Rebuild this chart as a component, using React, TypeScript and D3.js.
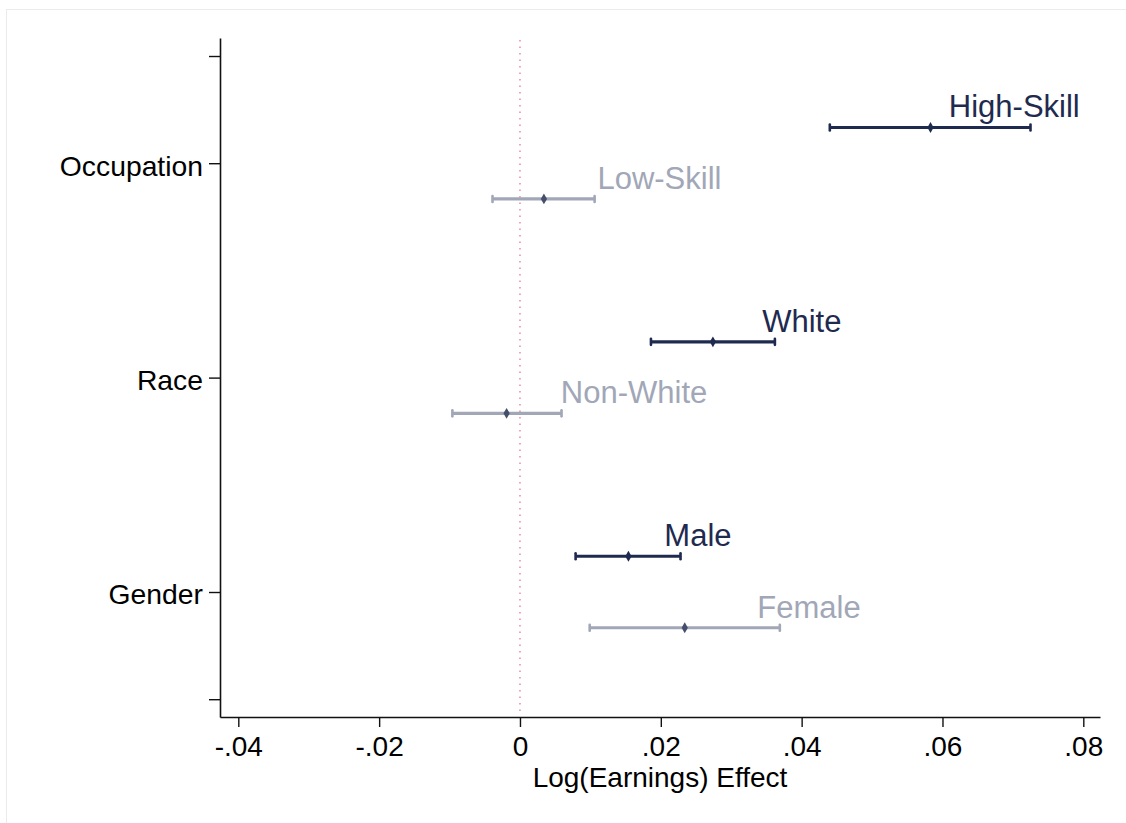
import React, { useEffect, useRef } from "react";
import * as d3 from "d3";

// estimates (log earnings effect, 95% CI)
const groups = ["Occupation", "Race", "Gender"];
const groupPos = [1, 3, 5];
const extraTicks = [0, 6];
const subgroups = ["High-Skill", "Low-Skill", "White", "Non-White", "Male", "Female"];
const subgroupGroup = ["Occupation", "Occupation", "Race", "Race", "Gender", "Gender"];
const subgroupRank = [0, 1, 0, 1, 0, 1];
const estimates = [0.0583, 0.0034, 0.0274, -0.0019, 0.0154, 0.0234];
const ciLower = [0.044, -0.0039, 0.0186, -0.0096, 0.0079, 0.0099];
const ciUpper = [0.0725, 0.0106, 0.0362, 0.0059, 0.0228, 0.0369];
const labelAt = [0.0609, 0.0110, 0.0344, 0.0058, 0.0205, 0.0337];
const xTicks = [-0.04, -0.02, 0, 0.02, 0.04, 0.06, 0.08];
const xTitle = "Log(Earnings) Effect";

const W = 1126;
const H = 823;
const FONT = "'Liberation Sans', Arial, Helvetica, sans-serif";
const DARK = "#1f2a4f";
const LIGHT = "#a1a7b7";
const LIGHT_MARK = "#454e6d";

// Stata style: ".02", "-.04", "0"
const fmt = (d: number) =>
	d === 0 ? "0" : d3.format(".2f")(d).replace("\u2212", "-").replace("0.", ".");

const App = () => {
	const ref = useRef<SVGSVGElement>(null);

	useEffect(() => {
		if (!ref.current) return;
		const svg = d3.select(ref.current);
		svg.selectAll("*").remove();

		const margin = { top: 38, right: 26, bottom: 106, left: 220 };
		const width = W - margin.left - margin.right;
		const height = H - margin.top - margin.bottom;

		// faint outer frame
		svg.append("rect")
			.attr("x", 6.5)
			.attr("y", 9.5)
			.attr("width", W + 20)
			.attr("height", H + 20)
			.style("fill", "white")
			.style("stroke", "#ebebeb");

		const g = svg
			.append("g")
			.attr("transform", `translate(${margin.left},${margin.top})`);

		const xScale = d3
			.scaleLinear()
			.domain([-0.0426, 0.08237])
			.range([0, width]);

		const yScale = d3
			.scaleLinear()
			.domain([-0.168, 6.166])
			.range([0, height]);

		// reference line at zero
		g.append("line")
			.attr("x1", xScale(0))
			.attr("x2", xScale(0))
			.attr("y1", 2)
			.attr("y2", height - 2)
			.style("stroke", "#e0708c")
			.style("stroke-width", 1.2)
			.style("stroke-dasharray", "1.5,5");

		// x axis
		const xAxis = g
			.append("g")
			.attr("transform", `translate(0,${height})`)
			.call(
				d3
					.axisBottom(xScale)
					.tickValues(xTicks)
					.tickFormat((d) => fmt(d as number))
					.tickSize(10)
					.tickSizeOuter(0)
			);
		xAxis.select(".domain").style("stroke", "#111").style("stroke-width", 1.6);
		xAxis.selectAll(".tick line").style("stroke", "#111").style("stroke-width", 1.4);
		xAxis
			.selectAll(".tick text")
			.attr("y", 39)
			.attr("dy", 0)
			.style("font-family", FONT)
			.style("font-size", "28px")
			.style("fill", "#000");

		// y axis
		const yTickVals = [...extraTicks, ...groupPos].sort((a, b) => a - b);
		const yAxis = g.append("g").call(
			d3
				.axisLeft(yScale)
				.tickValues(yTickVals)
				.tickFormat((d) => {
					const i = groupPos.indexOf(d as number);
					return i >= 0 ? groups[i] : "";
				})
				.tickSize(11)
				.tickPadding(6)
				.tickSizeOuter(0)
		);
		yAxis.select(".domain").style("stroke", "#111").style("stroke-width", 1.6);
		yAxis.selectAll(".tick line").style("stroke", "#111").style("stroke-width", 1.4);
		yAxis
			.selectAll(".tick text")
			.attr("dy", "0.42em")
			.style("font-family", FONT)
			.style("font-size", "28.3px")
			.style("fill", "#000");

		// x title
		g.append("text")
			.attr("x", width / 2)
			.attr("y", height + 70)
			.attr("text-anchor", "middle")
			.style("font-family", FONT)
			.style("font-size", "28px")
			.style("fill", "#000")
			.text(xTitle);

		const rows = subgroups.map((name, i) => ({
			name,
			est: estimates[i],
			lo: ciLower[i],
			hi: ciUpper[i],
			lab: labelAt[i],
			rank: subgroupRank[i],
			pos:
				groupPos[groups.indexOf(subgroupGroup[i])] +
				(subgroupRank[i] === 0 ? -1 / 3 : 1 / 3),
		}));

		const row = g
			.selectAll(".row")
			.data(rows)
			.enter()
			.append("g")
			.attr("class", "row");

		row.append("line")
			.attr("x1", (d) => xScale(d.lo))
			.attr("x2", (d) => xScale(d.hi))
			.attr("y1", (d) => yScale(d.pos))
			.attr("y2", (d) => yScale(d.pos))
			.style("stroke", (d) => (d.rank === 0 ? DARK : LIGHT))
			.style("stroke-width", 3.2);

		// small end caps
		["lo", "hi"].forEach((k) => {
			row.append("line")
				.attr("x1", (d: any) => xScale(d[k]))
				.attr("x2", (d: any) => xScale(d[k]))
				.attr("y1", (d) => yScale(d.pos) - 3)
				.attr("y2", (d) => yScale(d.pos) + 3)
				.style("stroke", (d) => (d.rank === 0 ? DARK : LIGHT))
				.style("stroke-width", 2.6)
				.style("stroke-linecap", "round");
		});

		row.append("path")
			.attr("d", d3.symbol().type(d3.symbolDiamond).size(34)())
			.attr(
				"transform",
				(d) => `translate(${xScale(d.est)},${yScale(d.pos)})`
			)
			.style("fill", (d) => (d.rank === 0 ? DARK : LIGHT_MARK));

		row.append("text")
			.attr("x", (d) => xScale(d.lab))
			.attr("y", (d) => yScale(d.pos) - 10)
			.style("font-family", FONT)
			.style("font-size", "31px")
			.style("fill", (d) => (d.rank === 0 ? DARK : LIGHT))
			.text((d) => d.name);
	}, []);

	return (
		<svg
			ref={ref}
			width={W}
			height={H}
			style={{ position: "absolute", left: 0, top: 0, background: "white" }}
		/>
	);
};

export default App;
